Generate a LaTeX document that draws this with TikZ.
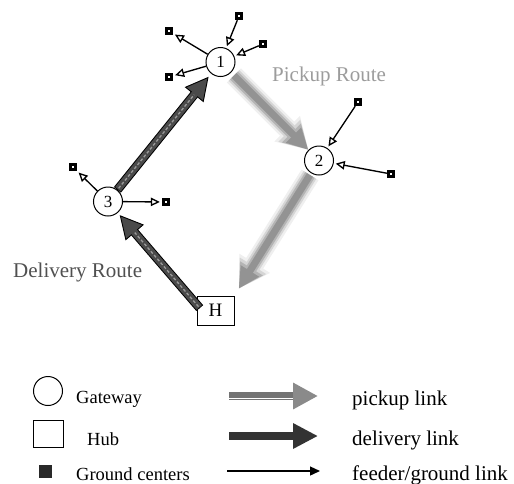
\documentclass[tikz,border=0pt]{standalone}
\usepackage{fontspec}
\setmainfont{Liberation Serif}
\usetikzlibrary{arrows.meta}

\definecolor{dshade}{HTML}{4A4A4A}
\definecolor{dstripec}{HTML}{9A9A9A}
\definecolor{pshade}{HTML}{5E5E5E}
\definecolor{legpick}{HTML}{737373}
\definecolor{legpickhead}{HTML}{8A8A8A}
\definecolor{legdel}{HTML}{333333}
\definecolor{pickuptext}{HTML}{9C9C9C}
\definecolor{delivtext}{HTML}{505050}

\tikzset{
  gateway/.style={circle, draw, line width=1pt, minimum size=29pt, inner sep=0pt,
    font=\fontsize{17}{17}\selectfont},
  hubbox/.style={rectangle, draw, line width=1pt, minimum width=37pt,
    minimum height=29pt, inner sep=0pt, font=\fontsize{19}{19}\selectfont},
  ground/.style={rectangle, fill=black, minimum size=8pt, inner sep=0pt,
    path picture={\fill[white]
      ([xshift=-1.1pt,yshift=-1.1pt]path picture bounding box.center) rectangle
      ([xshift=1.1pt,yshift=1.1pt]path picture bounding box.center);}},
  feeder/.style={line width=1.35pt, -{Triangle[open, length=9pt, width=8.5pt]},
    shorten >=2pt},
  routelabel/.style={inner sep=0pt, anchor=base west, font=\fontsize{21}{21}\selectfont},
  legleft/.style={inner sep=0pt, anchor=base west, font=\fontsize{18.5}{18.5}\selectfont},
  legright/.style={inner sep=0pt, anchor=base west, font=\fontsize{21}{21}\selectfont},
  dshaftout/.style={draw=black, line width=9pt},
  dshaft/.style={draw=dshade, line width=7pt},
  dstripe/.style={draw=dstripec, line width=1.3pt, dash pattern=on 3pt off 2pt},
  dtip/.style={draw=black, line width=0.5pt,
    -{Triangle[length=23pt, width=24pt, line width=0.9pt, fill=dshade]}},
}

% fat outlined delivery arrow: from, to, tail extension, head gap, shaft end
\newcommand{\deliverylink}[5]{%
  \draw[dshaftout, shorten <=#3, shorten >=#5] (#1) -- (#2);
  \draw[dtip, shorten <=#3, shorten >=#4] (#1) -- (#2);
  \draw[dshaft, shorten <=#3+0.9pt, shorten >=#5-1pt] (#1) -- (#2);
  \draw[dstripe, shorten <=#3+2pt, shorten >=#5+2pt] (#1) -- (#2);
}

% soft grey pickup arrow built from faded layers: from, to, tail gap, head gap
\newcommand{\pickuplink}[4]{%
  \foreach \w/\o/\hl/\hw in {20/0.10/30/34, 15/0.18/27/29, 11/0.28/24/25, 7/0.38/21/20}{
    \begin{scope}[transparency group, opacity=\o]
      \draw[pshade, line width=\w pt, -{Triangle[length=\hl pt, width=\hw pt]},
        shorten <=#3, shorten >=#4] (#1) -- (#2);
    \end{scope}
  }
}

\begin{document}
\begin{tikzpicture}[x=1pt, y=-1pt]
\useasboundingbox (0,0) rectangle (514,483);

% gateways and hub
\node[gateway] (g1) at (220.5,62) {1};
\node[gateway] (g2) at (319,160.5) {2};
\node[gateway] (g3) at (108,201.5) {3};
\node[hubbox] (H) at (215.5,310.5) {H};

% pickup route
\pickuplink{g1}{g2}{4pt}{0pt}
\pickuplink{g2}{H.north east}{2pt}{8pt}

% delivery route
\deliverylink{H.162}{g3}{-5pt}{3pt}{24pt}
\deliverylink{g3}{g1}{0pt}{4pt}{25pt}

% ground centers
\node[ground] (c1) at (169,31) {};
\node[ground] (c2) at (239,16) {};
\node[ground] (c3) at (263,44) {};
\node[ground] (c4) at (169,77) {};
\node[ground] (c5) at (358,102) {};
\node[ground] (c6) at (391,174) {};
\node[ground] (c7) at (73,167) {};
\node[ground] (c8) at (166,202) {};

% feeder / ground links
\draw[feeder] (g1) -- (c1);
\draw[feeder] (g1) -- (c4);
\draw[feeder] (c2) -- (g1);
\draw[feeder] (c3) -- (g1);
\draw[feeder] (c5) -- (g2);
\draw[feeder] (c6) -- (g2);
\draw[feeder] (g3) -- (c7);
\draw[feeder] (g3) -- (c8);

% route labels
\node[routelabel, text=pickuptext] (pr) at (272,81) {Pickup Route};
\node[routelabel, text=delivtext] (dr) at (13,277) {Delivery Route};

% legend symbols
\node[gateway] (lg) at (48,391) {};
\node[rectangle, draw, line width=1pt, minimum width=30pt, minimum height=27pt,
  inner sep=0pt] (lh) at (48,433.5) {};
\node[rectangle, fill=legdel!80!black, minimum size=13pt, inner sep=0pt] (lc) at (45.5,471.5) {};
\node[legleft] (tg) at (76,403) {Gateway};
\node[legleft] (th) at (87,445) {Hub};
\node[legleft] (tc) at (76,480) {Ground centers};

% legend links
\coordinate (lp0) at (229,396);
\coordinate (lp1) at (318,396);
\draw[legpick, line width=8pt, -{Triangle[length=25pt, width=25pt, color=legpickhead]}] (lp0) -- (lp1);
\draw[white, line width=0.8pt, shorten >=25pt, transform canvas={yshift=-2pt}] (lp0) -- (lp1);
\coordinate (ld0) at (229,436);
\coordinate (ld1) at (318,436);
\draw[legdel, line width=8pt, -{Triangle[length=25pt, width=24pt]}] (ld0) -- (ld1);
\coordinate (lf0) at (227,471);
\coordinate (lf1) at (320,471);
\draw[black, line width=1.3pt, -{Triangle[length=10pt, width=9pt]}] (lf0) -- (lf1);

\node[legright] (tp) at (352,405) {pickup link};
\node[legright] (td) at (352,445) {delivery link};
\node[legright] (tf) at (352,480) {feeder/ground link};
\end{tikzpicture}
\end{document}
